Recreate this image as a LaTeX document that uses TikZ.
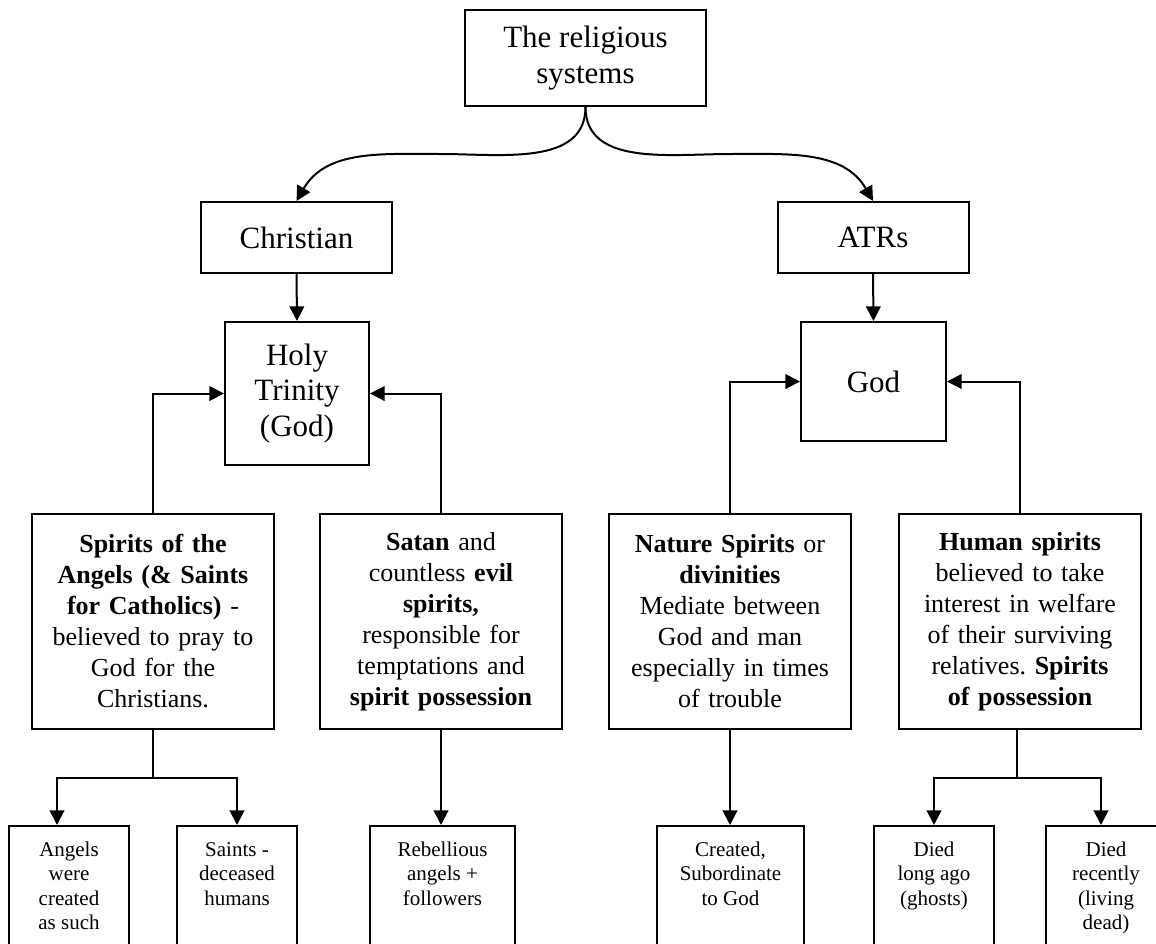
\documentclass[tikz,border=0pt]{standalone}
\usepackage{fontspec}
\setmainfont{Liberation Serif}
\usetikzlibrary{arrows.meta}
\begin{document}
\frenchspacing
\begin{tikzpicture}[x=0.75pt,y=-0.75pt,
  every node/.style={inner sep=0pt},
  box/.style={draw, line width=1.5pt, rectangle, align=center},
  big/.style={box, font=\fontsize{23.25}{26.6}\selectfont},
  mid/.style={box, text width=181pt, minimum height=161.25pt, font=\fontsize{19.5}{23.25}\selectfont},
  arr/.style={line width=1.5pt, -{Triangle[length=11pt,width=11pt]}},
  ln/.style={line width=1.5pt}
]
\newcommand{\bbox}[2]{\parbox[c][108pt][t]{#1}{\centering\fontsize{15.75}{18.4}\selectfont\rule{0pt}{22.5pt}#2}}
\useasboundingbox (0,0) rectangle (1156,943);

% top levels
\node[big, minimum width=180.75pt, minimum height=72pt] (top) at (585.5,58) {The religious\\systems};
\node[big, minimum width=143.25pt, minimum height=53.25pt] (christian) at (296.5,237.5) {Christian};
\node[big, minimum width=143.25pt, minimum height=53.25pt] (atrs) at (873,237.5) {ATRs};
\node[big, minimum width=108pt, minimum height=107.25pt] (holy) at (297,393.5) {Holy\\Trinity\\(God)};
\node[big, minimum width=108.75pt, minimum height=89.25pt] (god) at (873.5,381.5) {\raisebox{-4pt}{God}};

% middle boxes
\node[mid] (spirits) at (153,621.5) {\textbf{Spirits of the}\\\textbf{Angels (\& Saints}\\\textbf{for Catholics)} -\\believed to pray to\\God for the\\Christians.};
\node[mid] (satan) at (441,621.5) {\textbf{Satan} and\\countless \textbf{evil}\\\textbf{spirits,}\\responsible for\\temptations and\\\textbf{spirit possession}};
\node[mid] (nature) at (730,621.5) {\textbf{Nature Spirits} or\\\textbf{divinities}\\Mediate between\\God and man\\especially in times\\of trouble};
\node[mid] (human) at (1020,621.5) {\textbf{Human spirits}\\believed to take\\interest in welfare\\of their surviving\\relatives. \textbf{Spirits}\\\textbf{of possession}};

% bottom boxes
\node[box] (angels) at (69,898) {\bbox{90pt}{Angels\\were\\created\\as such}};
\node[box] (saints) at (237,898) {\bbox{90pt}{Saints -\\deceased\\humans}};
\node[box] (rebel) at (442.5,898) {\bbox{108.75pt}{Rebellious\\angels +\\followers}};
\node[box] (created) at (730.5,898) {\bbox{110.25pt}{Created,\\Subordinate\\to God}};
\node[box] (dla) at (934,898) {\bbox{90pt}{Died\\long ago\\(ghosts)}};
\node[box] (drec) at (1106,898) {\bbox{90pt}{Died\\recently\\(living\\dead)}};

% connectors
\coordinate (cL) at (441,154);
\coordinate (cR) at (730,154);
\draw[arr] (top.south) to[out=-90,in=0] (cL) to[out=180,in=60] (christian.north);
\draw[arr] (top.south) to[out=-90,in=180] (cR) to[out=0,in=120] (atrs.north);
\draw[arr] (christian.south) -- (holy.north);
\draw[arr] (atrs.south) -- (god.north);
\draw[arr] (spirits.north) |- (holy.west);
\draw[arr] (satan.north) |- (holy.east);
\draw[arr] (nature.north) |- (god.west);
\draw[arr] (human.north) |- (god.east);

\draw[ln] (spirits.south) -- ++(0,48) coordinate (s1);
\draw[arr] (s1) -| ([xshift=-9pt]angels.north);
\draw[arr] (s1) -| (saints.north);
\draw[arr] (satan.south) -- (satan.south |- rebel.north);
\draw[arr] (nature.south) -- (nature.south |- created.north);
\draw[ln] ([xshift=-2.25pt]human.south) -- ++(0,48) coordinate (s2);
\draw[arr] (s2) -| (dla.north);
\draw[arr] (s2) -| ([xshift=-3.75pt]drec.north);
\end{tikzpicture}
\end{document}
